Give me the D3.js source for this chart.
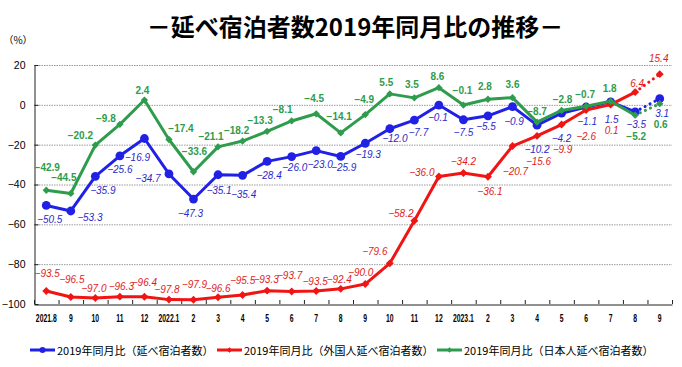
<!DOCTYPE html>
<html><head><meta charset="utf-8">
<script src="https://cdn.jsdelivr.net/npm/d3@7"></script>
<style>
body{margin:0;background:#fff;}
svg{display:block;}
</style></head>
<body><svg id="c" width="682" height="367"></svg>
<script>
// ---- data ----
const categories = ["2021.8","9","10","11","12","2022.1","2","3","4","5","6","7","8","9","10","11","12","2023.1","2","3","4","5","6","7","8","9"];
const totalValues = [-50.5,-53.3,-35.9,-25.6,-16.9,-34.7,-47.3,-35.1,-35.4,-28.4,-26.0,-23.0,-25.9,-19.3,-12.0,-7.7,-0.1,-7.5,-5.5,-0.9,-10.2,-4.2,-1.1,1.5,-3.5,3.1];
const foreignValues = [-93.5,-96.5,-97.0,-96.3,-96.4,-97.8,-97.9,-96.6,-95.5,-93.3,-93.7,-93.5,-92.4,-90.0,-79.6,-58.2,-36.0,-34.2,-36.1,-20.7,-15.6,-9.9,-2.6,0.1,6.4,15.4];
const japaneseValues = [-42.9,-44.5,-20.2,-9.8,2.4,-17.4,-33.6,-21.1,-18.2,-13.3,-8.1,-4.5,-14.1,-4.9,5.5,3.5,8.6,-0.1,2.8,3.6,-8.7,-2.8,-0.7,1.8,-5.2,0.6];
const yTicks = [20,0,-20,-40,-60,-80,-100];
const seriesNames = ["2019年同月比（延べ宿泊者数）","2019年同月比（外国人延べ宿泊者数）","2019年同月比（日本人延べ宿泊者数）"];
const titleText = "－延べ宿泊者数2019年同月比の推移－";
const unitText = "（%）";

// ---- label placement (layout only) ----
const totalLabelOffsets = [[3.5,14],[19,7],[7.5,14],[0,14],[-7,19],[-21,4.5],[-3,14],[1,16],[1,19],[2,14],[3,11],[4,14],[3,11],[3,11],[5,10],[4,12.5],[-1,12.7],[0,13],[-2,11],[1.5,15],[0,24],[0,25],[1,14.7],[1,17.5],[1,13],[2.5,14.5]];
const foreignLabelOffsets = [[1,-18],[1,-18],[-1.5,-10],[1.5,-10],[0,-14.5],[-2,-10],[1,-15.5],[0,-9],[0,-15],[-1,-11],[-2,-16],[-1,-10],[-1.5,-9.5],[-4.5,-12],[-15,-12],[-13.5,-7],[-17,-4],[0,-11],[2,15],[3,25],[1.5,26],[1,24.5],[0,26.5],[1,26],[2,-9],[-1,-16]];
const japaneseLabelOffsets = [[1,-23],[-7,-16],[-15,-9.5],[-14,-6],[-2,-9.5],[12,-10.5],[1,-20],[-7,-10],[-6,-11],[-7,-11],[-9,-11],[-2,-15],[-1.5,-16],[-1,-15],[-3.5,-11],[-2.5,-13],[-1.5,-11],[-1,-15],[-3,-12.5],[0,-13.5],[0,-10.5],[1,-11],[-1,-12],[-1,-13],[1,21],[1,21]];

const svg = d3.select("#c");
const L = 34, R = 672, T = 65, B = 304;
const NUM = "'Liberation Sans', Arial, sans-serif";
const CJK = "'Noto Sans CJK JP', sans-serif";

const x = d3.scaleBand().domain(d3.range(categories.length)).range([L, R]).padding(0);
const cx = i => x(i) + x.bandwidth() / 2;
const y = d3.scaleLinear().domain([-100, 20]).range([B, T]);

// title
svg.append("text").attr("x", 355).attr("y", 25).attr("text-anchor", "middle")
  .attr("dominant-baseline", "central").style("font-family", CJK).style("font-weight", "bold")
  .style("font-size", "24px").attr("fill", "#000").text(titleText);
svg.append("text").attr("x", 18).attr("y", 39).attr("text-anchor", "middle")
  .attr("dominant-baseline", "central").style("font-family", CJK).style("font-size", "10px")
  .attr("fill", "#000").text(unitText);

// grid
svg.append("g").selectAll("line").data(yTicks.filter(v => v > -100)).join("line")
  .attr("x1", L).attr("x2", R).attr("y1", d => y(d) + 0.5).attr("y2", d => y(d) + 0.5)
  .attr("stroke", "#9a9a9a").attr("stroke-width", 1).attr("stroke-dasharray", "1.5,1");

// y axis
const yAxis = svg.append("g").attr("transform", `translate(${L + 0.5},0)`)
  .call(d3.axisLeft(y).tickValues(yTicks).tickFormat(d3.format("d")).tickSizeInner(-4).tickSizeOuter(0).tickPadding(9));
yAxis.select(".domain").attr("stroke", "#222");
yAxis.selectAll(".tick line").attr("stroke", "#222");
yAxis.selectAll("text").style("font-family", NUM).style("font-size", "10.5px").attr("fill", "#000");

// x axis
const xAxis = svg.append("g").attr("transform", `translate(0,${B + 0.5})`)
  .call(d3.axisBottom(x).tickFormat(i => categories[i]).tickSize(0).tickPadding(10));
xAxis.select(".domain").attr("stroke", "#222");
xAxis.selectAll("text").style("font-family", NUM).style("font-size", "11px").style("font-weight", "bold")
  .attr("fill", "#000").attr("transform", "scale(0.62,1)");
// x tick marks at band boundaries (inward)
svg.append("g").selectAll("line").data(d3.range(categories.length + 1)).join("line")
  .attr("x1", i => (i < categories.length ? x(i) : R) + 0.5)
  .attr("x2", i => (i < categories.length ? x(i) : R) + 0.5)
  .attr("y1", B).attr("y2", B - 4).attr("stroke", "#222");

// series
const series = [
  {vals: totalValues, color: "#2121e6", text: "#2a2ac8", marker: "circle", offs: totalLabelOffsets, style: "italic", weight: "normal", size: 0},
  {vals: foreignValues, color: "#f01414", text: "#e01b1b", marker: "diamond", offs: foreignLabelOffsets, style: "italic", weight: "normal", size: 40},
  {vals: japaneseValues, color: "#2e9c4c", text: "#2e9c4c", marker: "diamond", offs: japaneseLabelOffsets, style: "normal", weight: "bold", size: 34}
];
const line = d3.line().x(d => cx(d.i)).y(d => y(d.v));
const n = categories.length;

series.forEach(s => {
  const pts = s.vals.map((v, i) => ({v, i}));
  const g = svg.append("g");
  g.append("path").attr("d", line(pts.slice(0, n - 1))).attr("fill", "none")
    .attr("stroke", s.color).attr("stroke-width", 3).attr("stroke-linejoin", "round");
  g.append("path").attr("d", line(pts.slice(n - 2))).attr("fill", "none")
    .attr("stroke", s.color).attr("stroke-width", 3).attr("stroke-dasharray", "0.1,5.5").attr("stroke-linecap", "round");
  if (s.marker === "circle") {
    g.selectAll("circle").data(pts).join("circle").attr("cx", d => cx(d.i)).attr("cy", d => y(d.v))
      .attr("r", 4.4).attr("fill", s.color);
  } else {
    const sym = d3.symbol().type(d3.symbolDiamond2).size(s.size);
    g.selectAll("path.m").data(pts).join("path").attr("class", "m")
      .attr("transform", d => `translate(${cx(d.i)},${y(d.v)})`).attr("d", sym).attr("fill", s.color);
  }
});

// labels on top
const fmt = d3.format(".1f");
series.forEach(s => {
  svg.append("g").selectAll("text").data(s.vals.map((v, i) => ({v, i}))).join("text")
    .attr("x", d => cx(d.i) + s.offs[d.i][0]).attr("y", d => y(d.v) + s.offs[d.i][1])
    .attr("text-anchor", "middle").attr("dominant-baseline", "central")
    .style("font-family", NUM).style("font-size", "10px").style("font-style", s.style).style("font-weight", s.weight)
    .attr("fill", s.text).text(d => fmt(d.v));
});

// legend
const legendX = [30, 217, 437];
series.forEach((s, k) => {
  const g = svg.append("g").attr("transform", `translate(${legendX[k]},350)`);
  g.append("line").attr("x1", 0).attr("x2", 25).attr("y1", 0).attr("y2", 0).attr("stroke", s.color).attr("stroke-width", 3);
  if (s.marker === "circle") g.append("circle").attr("cx", 12.5).attr("cy", 0).attr("r", 3).attr("fill", s.color);
  else g.append("path").attr("transform", "translate(12.5,0)").attr("d", d3.symbol().type(d3.symbolDiamond2).size(20)).attr("fill", s.color);
  g.append("text").attr("x", 27).attr("y", 0).attr("dominant-baseline", "central")
    .style("font-family", CJK).style("font-size", "11px").attr("fill", "#000").text(seriesNames[k]);
});
</script></body></html>
